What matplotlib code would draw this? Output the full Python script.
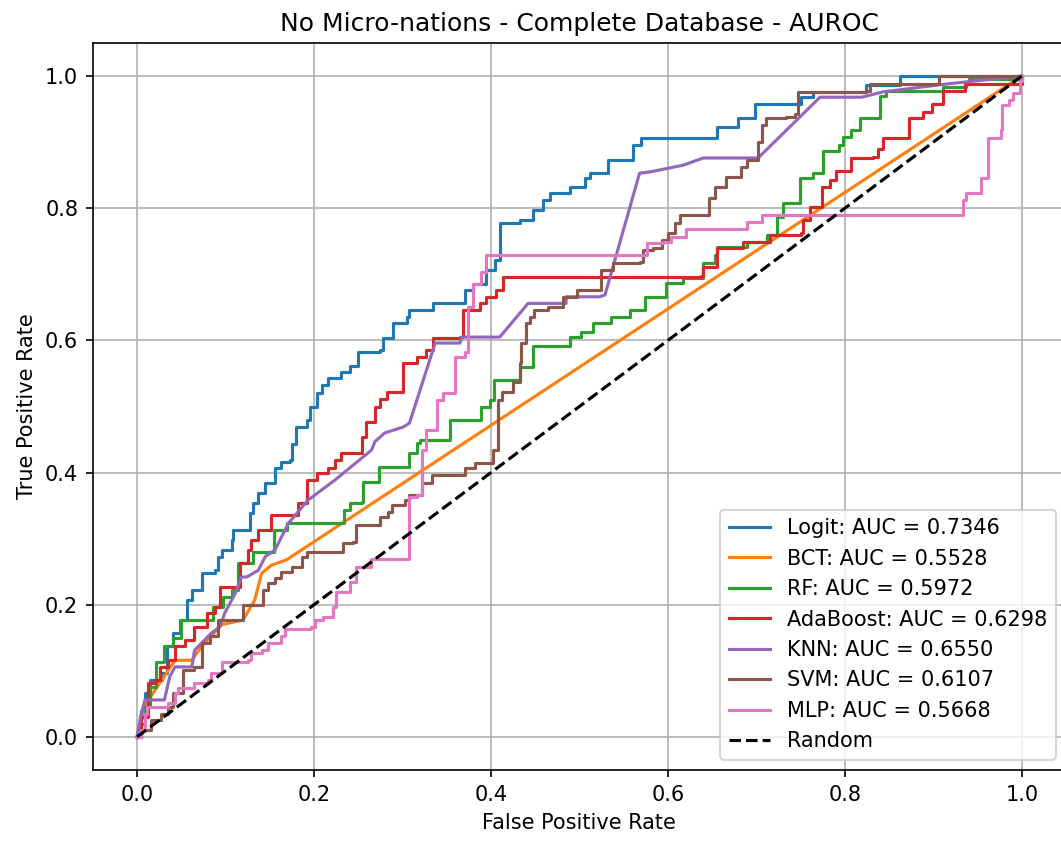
import matplotlib
matplotlib.use("Agg")
import matplotlib.pyplot as plt

# ROC vertices (false positive rate, true positive rate)
logit_fpr = [0, 0.004, 0.009, 0.015, 0.028, 0.034, 0.041, 0.049, 0.056, 0.062, 0.073, 0.088, 0.092, 0.096,
             0.107, 0.108, 0.125, 0.128, 0.131, 0.137, 0.145, 0.156, 0.163, 0.173, 0.175, 0.180, 0.192, 0.195,
             0.203, 0.209, 0.216, 0.231, 0.241, 0.250, 0.275, 0.278, 0.289, 0.305, 0.308, 0.335, 0.365, 0.371,
             0.380, 0.395, 0.405, 0.410, 0.433, 0.448, 0.459, 0.467, 0.489, 0.506, 0.512, 0.532, 0.559, 0.561,
             0.570, 0.643, 0.655, 0.679, 0.698, 0.745, 0.751, 0.764, 0.824, 0.862, 1.0]
logit_tpr = [0, 0.04, 0.067, 0.086, 0.097, 0.137, 0.157, 0.177, 0.207, 0.222, 0.248, 0.253, 0.273, 0.283,
             0.298, 0.313, 0.313, 0.339, 0.354, 0.369, 0.384, 0.407, 0.416, 0.419, 0.444, 0.469, 0.480, 0.500,
             0.520, 0.532, 0.543, 0.552, 0.562, 0.583, 0.585, 0.603, 0.626, 0.636, 0.646, 0.656, 0.656, 0.676,
             0.686, 0.706, 0.722, 0.777, 0.782, 0.797, 0.812, 0.823, 0.832, 0.845, 0.853, 0.873, 0.873, 0.896,
             0.906, 0.906, 0.923, 0.936, 0.958, 0.958, 0.968, 0.976, 0.986, 1.0, 1.0]

bct_fpr = [0, 0.01, 0.043, 0.062, 0.073, 0.096, 0.120, 0.133, 0.141, 0.152, 0.169, 1.0]
bct_tpr = [0, 0.05, 0.116, 0.116, 0.137, 0.170, 0.177, 0.207, 0.248, 0.260, 0.268, 1.0]

rf_fpr = [0, 0.004, 0.009, 0.015, 0.022, 0.031, 0.041, 0.050, 0.073, 0.086, 0.097, 0.107, 0.114, 0.131,
          0.146, 0.155, 0.169, 0.231, 0.234, 0.241, 0.254, 0.256, 0.269, 0.273, 0.302, 0.307, 0.316, 0.320,
          0.352, 0.354, 0.385, 0.389, 0.399, 0.403, 0.425, 0.433, 0.444, 0.448, 0.485, 0.489, 0.502, 0.515,
          0.536, 0.557, 0.574, 0.598, 0.617, 0.638, 0.640, 0.653, 0.655, 0.689, 0.712, 0.723, 0.723, 0.730,
          0.749, 0.764, 0.775, 0.794, 0.798, 0.807, 0.817, 0.837, 0.840, 0.847, 0.907, 0.911, 0.937, 0.940, 1.0]
rf_tpr = [0, 0.02, 0.046, 0.076, 0.114, 0.137, 0.150, 0.177, 0.177, 0.197, 0.212, 0.222, 0.263, 0.280,
          0.280, 0.313, 0.323, 0.323, 0.343, 0.354, 0.356, 0.386, 0.386, 0.409, 0.409, 0.429, 0.445, 0.449,
          0.449, 0.480, 0.480, 0.500, 0.510, 0.540, 0.540, 0.560, 0.560, 0.592, 0.592, 0.605, 0.613, 0.626,
          0.636, 0.646, 0.666, 0.687, 0.694, 0.694, 0.717, 0.729, 0.741, 0.749, 0.759, 0.759, 0.787, 0.808,
          0.846, 0.853, 0.886, 0.896, 0.908, 0.918, 0.936, 0.936, 0.970, 0.978, 0.978, 0.983, 0.988, 0.995, 1.0]

ada_fpr = [0, 0.004, 0.013, 0.020, 0.026, 0.035, 0.043, 0.054, 0.065, 0.079, 0.088, 0.094, 0.111, 0.116,
           0.125, 0.129, 0.137, 0.152, 0.175, 0.182, 0.192, 0.204, 0.216, 0.224, 0.231, 0.250, 0.254, 0.259,
           0.269, 0.275, 0.283, 0.297, 0.301, 0.316, 0.327, 0.335, 0.365, 0.369, 0.388, 0.395, 0.406, 0.414,
           0.638, 0.640, 0.655, 0.685, 0.715, 0.751, 0.753, 0.761, 0.774, 0.783, 0.790, 0.807, 0.832, 0.837,
           0.843, 0.866, 0.873, 0.888, 0.898, 0.911, 0.936, 0.953, 1.0]
ada_tpr = [0, 0.03, 0.082, 0.086, 0.106, 0.116, 0.137, 0.147, 0.167, 0.187, 0.197, 0.227, 0.227, 0.263,
           0.283, 0.298, 0.313, 0.336, 0.336, 0.354, 0.389, 0.399, 0.407, 0.419, 0.430, 0.430, 0.454, 0.477,
           0.500, 0.512, 0.522, 0.522, 0.566, 0.575, 0.585, 0.603, 0.605, 0.646, 0.656, 0.666, 0.676, 0.696,
           0.698, 0.711, 0.740, 0.749, 0.759, 0.762, 0.782, 0.802, 0.832, 0.843, 0.857, 0.876, 0.878, 0.890,
           0.906, 0.906, 0.936, 0.946, 0.958, 0.978, 0.988, 0.988, 1.0]

knn_fpr = [0, 0.004, 0.009, 0.031, 0.037, 0.043, 0.062, 0.065, 0.084, 0.094, 0.099, 0.111, 0.118, 0.124,
           0.137, 0.145, 0.156, 0.171, 0.193, 0.209, 0.224, 0.265, 0.269, 0.280, 0.301, 0.308, 0.337, 0.365,
           0.367, 0.410, 0.442, 0.485, 0.485, 0.523, 0.529, 0.568, 0.580, 0.617, 0.640, 0.702, 0.772, 0.819,
           0.843, 0.915, 1.0]
knn_tpr = [0, 0.03, 0.056, 0.056, 0.091, 0.106, 0.106, 0.131, 0.157, 0.167, 0.187, 0.217, 0.242, 0.242,
           0.252, 0.273, 0.283, 0.323, 0.358, 0.374, 0.389, 0.434, 0.447, 0.460, 0.469, 0.475, 0.596, 0.596,
           0.605, 0.605, 0.656, 0.656, 0.666, 0.666, 0.669, 0.853, 0.855, 0.865, 0.876, 0.876, 0.968, 0.968,
           0.976, 0.988, 1.0]

svm_fpr = [0, 0.005, 0.016, 0.027, 0.035, 0.041, 0.048, 0.052, 0.065, 0.073, 0.082, 0.092, 0.118, 0.120,
           0.137, 0.142, 0.148, 0.156, 0.163, 0.175, 0.186, 0.192, 0.231, 0.233, 0.244, 0.248, 0.273, 0.275,
           0.284, 0.288, 0.303, 0.308, 0.317, 0.322, 0.333, 0.369, 0.371, 0.382, 0.400, 0.402, 0.408, 0.412,
           0.419, 0.425, 0.433, 0.434, 0.440, 0.444, 0.449, 0.464, 0.481, 0.497, 0.519, 0.525, 0.538, 0.568,
           0.572, 0.583, 0.593, 0.600, 0.608, 0.614, 0.642, 0.647, 0.653, 0.666, 0.683, 0.689, 0.702, 0.706,
           0.711, 0.734, 0.744, 0.747, 0.824, 0.828, 0.905, 0.907, 1.0]
svm_tpr = [0, 0.01, 0.025, 0.035, 0.046, 0.066, 0.066, 0.101, 0.106, 0.142, 0.152, 0.177, 0.177, 0.200,
           0.200, 0.222, 0.233, 0.240, 0.250, 0.257, 0.273, 0.280, 0.280, 0.293, 0.295, 0.321, 0.321, 0.333,
           0.340, 0.351, 0.359, 0.366, 0.366, 0.384, 0.396, 0.396, 0.407, 0.414, 0.414, 0.434, 0.510, 0.522,
           0.522, 0.537, 0.566, 0.596, 0.626, 0.636, 0.646, 0.651, 0.666, 0.676, 0.676, 0.706, 0.717, 0.719,
           0.737, 0.740, 0.752, 0.762, 0.777, 0.790, 0.790, 0.815, 0.832, 0.847, 0.862, 0.873, 0.900, 0.926,
           0.936, 0.938, 0.943, 0.976, 0.978, 0.988, 0.988, 1.0, 1.0]

mlp_fpr = [0, 0.005, 0.009, 0.011, 0.031, 0.035, 0.043, 0.046, 0.062, 0.065, 0.080, 0.084, 0.096, 0.096,
           0.125, 0.129, 0.141, 0.148, 0.163, 0.167, 0.197, 0.201, 0.210, 0.221, 0.225, 0.237, 0.241, 0.248,
           0.265, 0.303, 0.308, 0.317, 0.322, 0.327, 0.335, 0.339, 0.346, 0.355, 0.359, 0.371, 0.374, 0.380,
           0.389, 0.395, 0.572, 0.576, 0.594, 0.604, 0.621, 0.689, 0.689, 0.706, 0.934, 0.934, 0.937, 0.948,
           0.954, 0.962, 0.973, 0.977, 0.978, 0.986, 0.990, 0.998, 1.0]
mlp_tpr = [0, 0.01, 0.035, 0.046, 0.046, 0.051, 0.066, 0.074, 0.074, 0.082, 0.086, 0.097, 0.106, 0.114,
           0.116, 0.127, 0.132, 0.142, 0.152, 0.164, 0.167, 0.177, 0.182, 0.197, 0.220, 0.220, 0.235, 0.257,
           0.270, 0.270, 0.363, 0.366, 0.434, 0.464, 0.464, 0.510, 0.520, 0.520, 0.575, 0.583, 0.651, 0.686,
           0.704, 0.729, 0.729, 0.747, 0.749, 0.756, 0.769, 0.769, 0.779, 0.789, 0.790, 0.812, 0.823, 0.823,
           0.846, 0.906, 0.906, 0.918, 0.956, 0.964, 0.974, 0.993, 1.0]

model_names = ["Logit", "BCT", "RF", "AdaBoost", "KNN", "SVM", "MLP"]
auc_values = [0.7346, 0.5528, 0.5972, 0.6298, 0.6550, 0.6107, 0.5668]

curves = [
    (logit_fpr, logit_tpr),
    (bct_fpr, bct_tpr),
    (rf_fpr, rf_tpr),
    (ada_fpr, ada_tpr),
    (knn_fpr, knn_tpr),
    (svm_fpr, svm_tpr),
    (mlp_fpr, mlp_tpr),
]

# staircase models are drawn as steps, the ones with tied scores keep their diagonals
stepped = {"Logit", "RF", "AdaBoost", "SVM", "MLP"}

fig = plt.figure(figsize=(1061 / 150, 841 / 150), dpi=150)
ax = fig.add_axes([92.75 / 1061, 71 / 841, 973.25 / 1061, 727 / 841])

for name, auc, (fpr, tpr) in zip(model_names, auc_values, curves):
    style = "steps-post" if name in stepped else "default"
    ax.plot(fpr, tpr, drawstyle=style, label=f"{name}: AUC = {auc:.4f}")
ax.plot([0, 1], [0, 1], "k--", label="Random")

ax.set_xlabel("False Positive Rate")
ax.set_ylabel("True Positive Rate")
ax.set_title("No Micro-nations - Complete Database - AUROC")
ax.legend(loc="lower right")
ax.grid(True)

fig.savefig("out.png", dpi=150)
